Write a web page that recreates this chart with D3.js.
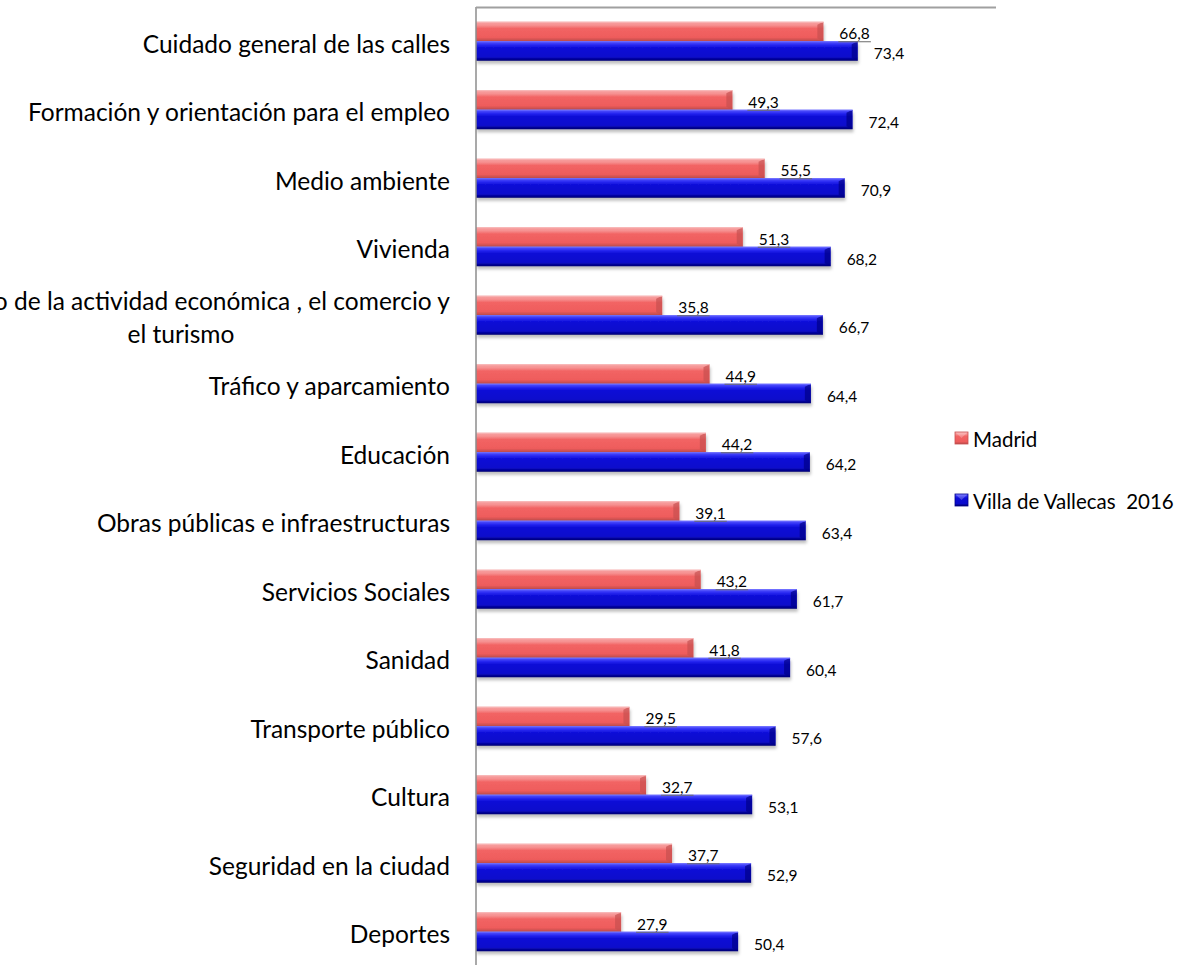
<!DOCTYPE html>
<html><head><meta charset="utf-8">
<script src="https://cdn.jsdelivr.net/npm/d3@7"></script>
<style>body{margin:0;background:#fff}svg{display:block}text{font-family:Lato,"Open Sans",sans-serif;fill:#000;white-space:pre}</style>
</head><body>
<svg id="c" width="1179" height="965"></svg>
<script>
const categories = ["Cuidado general de las calles","Formación y orientación para el empleo","Medio ambiente","Vivienda","Fomento de la actividad económica , el comercio y|el turismo","Tráfico y aparcamiento","Educación","Obras públicas e infraestructuras","Servicios Sociales","Sanidad","Transporte público","Cultura","Seguridad en la ciudad","Deportes"];
const madrid = [66.8,49.3,55.5,51.3,35.8,44.9,44.2,39.1,43.2,41.8,29.5,32.7,37.7,27.9];
const vallecas = [73.4,72.4,70.9,68.2,66.7,64.4,64.2,63.4,61.7,60.4,57.6,53.1,52.9,50.4];
const seriesNames = ["Madrid","Villa de Vallecas  2016"];

const svg = d3.select("#c");
const defs = svg.append("defs");
function grad(id, stops){
  const g = defs.append("linearGradient").attr("id",id).attr("x1",0).attr("y1",0).attr("x2",0).attr("y2",1);
  stops.forEach(s=>g.append("stop").attr("offset",s[0]).attr("stop-color",s[1]));
}
grad("gRed",[[0,"#f7a3a3"],[0.18,"#f69090"],[0.35,"#f26464"],[0.8,"#ee5c5c"],[1,"#b94a4a"]]);
grad("gBlue",[[0,"#5a5aff"],[0.18,"#2a2af2"],[0.35,"#0c0cd6"],[0.8,"#0a0acc"],[1,"#00006e"]]);
const f = defs.append("filter").attr("id","sh").attr("x","-5%").attr("y","-20%").attr("width","110%").attr("height","160%");
f.append("feDropShadow").attr("dx",1).attr("dy",3).attr("stdDeviation",1.5).attr("flood-color","#000").attr("flood-opacity",0.25);

const x = d3.scaleLinear().domain([0,100]).range([476,996]);
const y = d3.scaleBand().domain(categories).range([7,966]).paddingInner(0.43).paddingOuter(0.215);
const sub = d3.scaleBand().domain([0,1]).range([0,y.bandwidth()]);

const data = categories.map((c,i)=>({c, v:[madrid[i],vallecas[i]]}));
const fills = ["url(#gRed)","url(#gBlue)"];
const ends = ["#c85050","#000088"];

const g = svg.append("g");
data.forEach(d=>{
  d.v.forEach((v,s)=>{
    const y0 = y(d.c)+sub(s), h = sub.bandwidth(), x1 = x(v);
    g.append("rect").attr("x",x(0)).attr("y",y0).attr("width",x1-x(0)).attr("height",h)
      .attr("fill",fills[s]).attr("filter","url(#sh)");
    g.append("polygon").attr("points",`${x1-6},${y0+3} ${x1},${y0} ${x1},${y0+h} ${x1-6},${y0+h-3}`)
      .attr("fill",ends[s]).attr("opacity",0.7);
    g.append("line").attr("x1",x(0)).attr("x2",x1).attr("y1",y0+0.5).attr("y2",y0+0.5)
      .attr("stroke",s===0?"#f8b8b8":"#6a6aff").attr("stroke-width",1);
  });
});

// labels
data.forEach(d=>{
  d.v.forEach((v,s)=>{
    const y0 = y(d.c)+sub(s), h = sub.bandwidth();
    const t = g.append("text").attr("x",x(v)+16).attr("y",y0+h/2+2).attr("dominant-baseline","central")
      .attr("font-size",15.5).text(String(v.toFixed(1)).replace(".",","));
    if(s===0){
      const w = t.node().getComputedTextLength();
      g.append("line").attr("x1",x(v)+15).attr("x2",x(v)+17+w).attr("y1",y0+h+0.5).attr("y2",y0+h+0.5)
        .attr("stroke","#6b6b6b").attr("stroke-width",1);
    }
  });
});

// axes lines
svg.append("line").attr("x1",x(0)).attr("x2",x(0)).attr("y1",7).attr("y2",966).attr("stroke","#8c8c8c").attr("stroke-width",1.5);
svg.append("line").attr("x1",x(0)).attr("x2",x(100)).attr("y1",7.5).attr("y2",7.5).attr("stroke","#a0a0a0").attr("stroke-width",2);

// category labels
const lab = svg.append("g");
const fs = 24.5;
categories.forEach(c=>{
  const cy = y(c)+y.bandwidth()/2;
  const parts = c.split("|");
  if(parts.length===1){
    lab.append("text").attr("x",450).attr("y",cy+2).attr("text-anchor","end").attr("dominant-baseline","central")
      .attr("font-size",fs).text(c);
  } else {
    const t1 = lab.append("text").attr("y",cy-15).attr("text-anchor","middle").attr("dominant-baseline","central")
      .attr("font-size",fs).text(parts[0]);
    const w = t1.node().getComputedTextLength();
    const cx = 450 - w/2;
    t1.attr("x",cx);
    lab.append("text").attr("x",cx).attr("y",cy+18).attr("text-anchor","middle").attr("dominant-baseline","central")
      .attr("font-size",fs).text(parts[1]);
  }
});

// legend
const lg = svg.append("g");
const ly = [438,500];
seriesNames.forEach((n,i)=>{
  lg.append("rect").attr("x",955).attr("y",ly[i]-6).attr("width",13).attr("height",12).attr("fill",fills[i]).attr("stroke",ends[i]).attr("stroke-width",0.8);
  lg.append("polygon").attr("points",`${955.5},${ly[i]-5.5} ${967.5},${ly[i]-5.5} ${961.5},${ly[i]}`).attr("fill","#fff").attr("opacity",0.25);
  lg.append("text").attr("x",973).attr("y",ly[i]+1).attr("dominant-baseline","central").attr("font-size",20.5).text(n);
});
</script>
</body></html>
